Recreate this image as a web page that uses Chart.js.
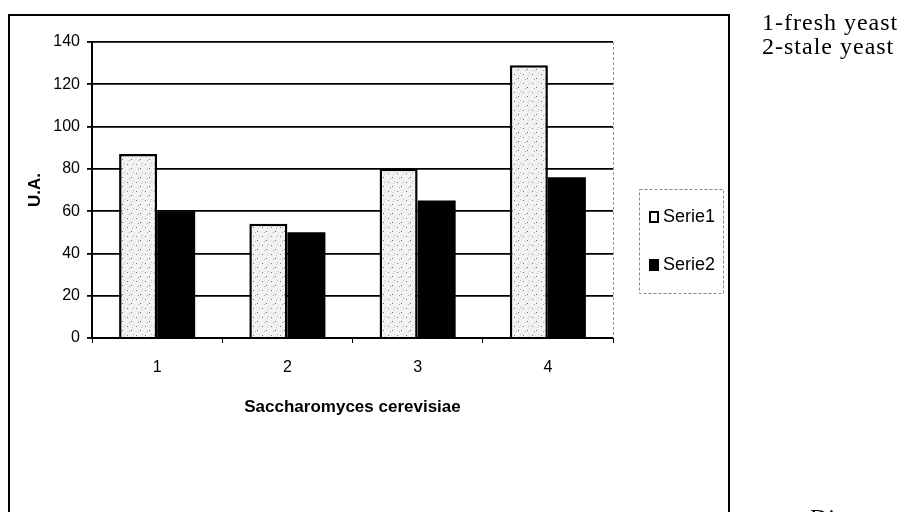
<!DOCTYPE html>
<html>
<head>
<meta charset="utf-8">
<script src="https://cdn.jsdelivr.net/npm/chart.js@4.4.1/dist/chart.umd.min.js"></script>
<style>
  html, body { margin: 0; padding: 0; background: #fff; overflow: hidden; }
  #wrap { position: relative; width: 912px; height: 512px; overflow: hidden; }
  #frame {
    position: absolute; left: 8px; top: 14px; width: 718px; height: 520px;
    border: 2px solid #000;
  }
  #chart { position: absolute; left: 0; top: 0; }
  .note {
    position: absolute; font-family: 'Liberation Serif', 'Times New Roman', serif;
    font-size: 24px; line-height: 24px; letter-spacing: 1px; color: #000;
  }
</style>
</head>
<body>
<div id="wrap">
  <div id="frame"></div>
  <canvas id="chart" width="912" height="512"></canvas>
  <div class="note" style="left:762px; top:10px;">1-fresh yeast<br>2-stale yeast</div>
  <div class="note" style="left:810px; top:505px;">Di</div>
</div>
<script>
// values (U.A.)
const categories = ['1', '2', '3', '4']
const serie1 = [87, 54, 80, 129]
const serie2 = [60, 50, 65, 76]
const seriesNames = ['Serie1', 'Serie2']

Chart.defaults.font.family = "'Liberation Sans', Arial, sans-serif"
Chart.defaults.color = '#000'

// light speckled fill like the printed stipple
function stipple() {
  const c = document.createElement('canvas')
  c.width = 9
  c.height = 9
  const g = c.getContext('2d')
  g.fillStyle = '#f2f2f2'
  g.fillRect(0, 0, 9, 9)
  const dots = [[1, 2, '#777'], [5, 6, '#666'], [7, 1, '#bbb'], [3, 7, '#aaa'], [6, 3, '#ccc']]
  dots.forEach(([x, y, col]) => {
    g.fillStyle = col
    g.fillRect(x, y, 1, 1)
  })
  return g.createPattern(c, 'repeat')
}

const ctx = document.getElementById('chart').getContext('2d')

const boxLegend = {
  id: 'boxLegend',
  afterDraw(chart) {
    const { ctx, chartArea } = chart
    ctx.save()
    // dashed right edge of the plot area
    ctx.strokeStyle = '#999'
    ctx.lineWidth = 1
    ctx.setLineDash([3, 2])
    ctx.beginPath()
    ctx.moveTo(chartArea.right + 0.5, chartArea.top)
    ctx.lineTo(chartArea.right + 0.5, chartArea.bottom)
    ctx.stroke()

    // legend box
    const lx = chartArea.right + 26
    const ly = 189
    ctx.strokeStyle = '#888'
    ctx.strokeRect(lx + 0.5, ly + 0.5, 84, 104)
    ctx.setLineDash([])

    ctx.font = "18px 'Liberation Sans', Arial, sans-serif"
    ctx.textBaseline = 'middle'
    chart.data.datasets.forEach((ds, i) => {
      const cy = ly + 28 + i * 48
      if (i === 0) {
        ctx.fillStyle = '#fff'
        ctx.fillRect(lx + 10, cy - 6, 10, 12)
        ctx.strokeStyle = '#000'
        ctx.lineWidth = 2
        ctx.strokeRect(lx + 11, cy - 5, 8, 10)
      } else {
        ctx.fillStyle = '#000'
        ctx.fillRect(lx + 10, cy - 6, 10, 12)
      }
      ctx.fillStyle = '#000'
      ctx.fillText(ds.label, lx + 24, cy)
    })
    ctx.restore()
  }
}

new Chart(ctx, {
  type: 'bar',
  data: {
    labels: categories,
    datasets: [
      {
        label: seriesNames[0],
        data: serie1,
        backgroundColor: stipple(),
        borderColor: '#000',
        borderWidth: 2.5,
        borderSkipped: 'bottom'
      },
      {
        label: seriesNames[1],
        data: serie2,
        backgroundColor: '#000',
        borderWidth: 0
      }
    ]
  },
  options: {
    responsive: false,
    animation: false,
    categoryPercentage: 0.584,
    barPercentage: 1.0,
    layout: { padding: { top: 42, right: 299, bottom: 84, left: 0 } },
    plugins: {
      legend: { display: false },
      tooltip: { enabled: false }
    },
    scales: {
      x: {
        afterFit: (scale) => { scale.height = 90 },
        grid: {
          offset: true,
          drawOnChartArea: false,
          drawTicks: true,
          tickLength: 5,
          color: '#000'
        },
        border: { color: '#000', width: 2 },
        ticks: { padding: 15, font: { size: 16 } },
        title: {
          display: true,
          text: 'Saccharomyces cerevisiae',
          font: { size: 17, weight: 'bold' },
          padding: { top: 0, bottom: 10 }
        }
      },
      y: {
        min: 0,
        max: 140,
        afterFit: (scale) => { scale.width = 92 },
        grid: {
          color: '#000',
          lineWidth: 1.8,
          drawTicks: true,
          tickLength: 5
        },
        border: { color: '#000', width: 2 },
        ticks: { stepSize: 20, padding: 7, font: { size: 16 } },
        title: {
          display: true,
          text: 'U.A.',
          font: { size: 17, weight: 'bold' },
          padding: { top: 25, bottom: 0 }
        }
      }
    }
  },
  plugins: [boxLegend]
})
</script>
</body>
</html>
